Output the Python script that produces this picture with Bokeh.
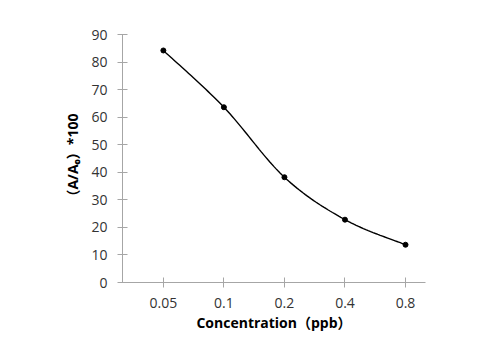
import numpy as np
from bokeh.plotting import figure
from bokeh.models import FixedTicker, Range1d
from bokeh.embed import file_html
from bokeh.resources import INLINE

categories = ["0.05", "0.1", "0.2", "0.4", "0.8"]
values = [84.2, 63.6, 38.2, 22.8, 13.7]
y_ticks = [0, 10, 20, 30, 40, 50, 60, 70, 80, 90]

xs = np.arange(len(categories), dtype=float)
ys = np.array(values, dtype=float)

# Smoothed line (Catmull-Rom style Bezier as in spreadsheet "smoothed line")
cx, cy = [], []
n = len(xs)
for i in range(n - 1):
    p0 = (xs[max(i - 1, 0)], ys[max(i - 1, 0)])
    p1 = (xs[i], ys[i])
    p2 = (xs[i + 1], ys[i + 1])
    p3 = (xs[min(i + 2, n - 1)], ys[min(i + 2, n - 1)])
    c1 = (p1[0] + (p2[0] - p0[0]) / 6, p1[1] + (p2[1] - p0[1]) / 6)
    c2 = (p2[0] - (p3[0] - p1[0]) / 6, p2[1] - (p3[1] - p1[1]) / 6)
    t = np.linspace(0, 1, 30)
    bx = (1 - t) ** 3 * p1[0] + 3 * (1 - t) ** 2 * t * c1[0] + 3 * (1 - t) * t ** 2 * c2[0] + t ** 3 * p2[0]
    by = (1 - t) ** 3 * p1[1] + 3 * (1 - t) ** 2 * t * c1[1] + 3 * (1 - t) * t ** 2 * c2[1] + t ** 3 * p2[1]
    cx.extend(bx.tolist())
    cy.extend(by.tolist())

font = "'Open Sans', 'Noto Sans CJK SC'"

p = figure(width=464, height=344, output_backend="svg", toolbar_location=None,
           x_range=Range1d(-0.675, 4.33), y_range=Range1d(0, 90),
           min_border_left=122, min_border_right=39, min_border_top=34, min_border_bottom=62)
p.outline_line_color = None
p.xgrid.visible = False
p.ygrid.visible = False

p.line(cx, cy, line_color="black", line_width=1.4)
p.scatter(xs, ys, size=5, color="black")

axis_color = "#A6A6A6"
for ax in (p.xaxis[0], p.yaxis[0]):
    ax.axis_line_color = axis_color
    ax.major_tick_line_color = axis_color
    ax.major_tick_in = 5
    ax.major_tick_out = 5
    ax.minor_tick_line_color = None
    ax.major_label_text_font = font
    ax.major_label_text_font_size = "14px"
    ax.major_label_text_color = "#333333"
    ax.major_label_standoff = 10
    ax.axis_label_text_font = font
    ax.axis_label_text_font_size = "14px"
    ax.axis_label_text_font_style = "bold"
    ax.axis_label_text_color = "#000000"

p.xaxis.ticker = FixedTicker(ticks=xs.tolist())
p.xaxis.major_label_overrides = {float(i): c for i, c in enumerate(categories)}
p.xaxis.major_label_overrides.update({int(i): c for i, c in enumerate(categories)})
p.xaxis.axis_label = "Concentration（ppb）"
p.xaxis.axis_label_standoff = 2

p.yaxis.ticker = FixedTicker(ticks=y_ticks)
p.yaxis.axis_label = "（A/A₀）*100"
p.yaxis.axis_label_standoff = 6

open("out.html", "w").write(file_html(p, INLINE))
